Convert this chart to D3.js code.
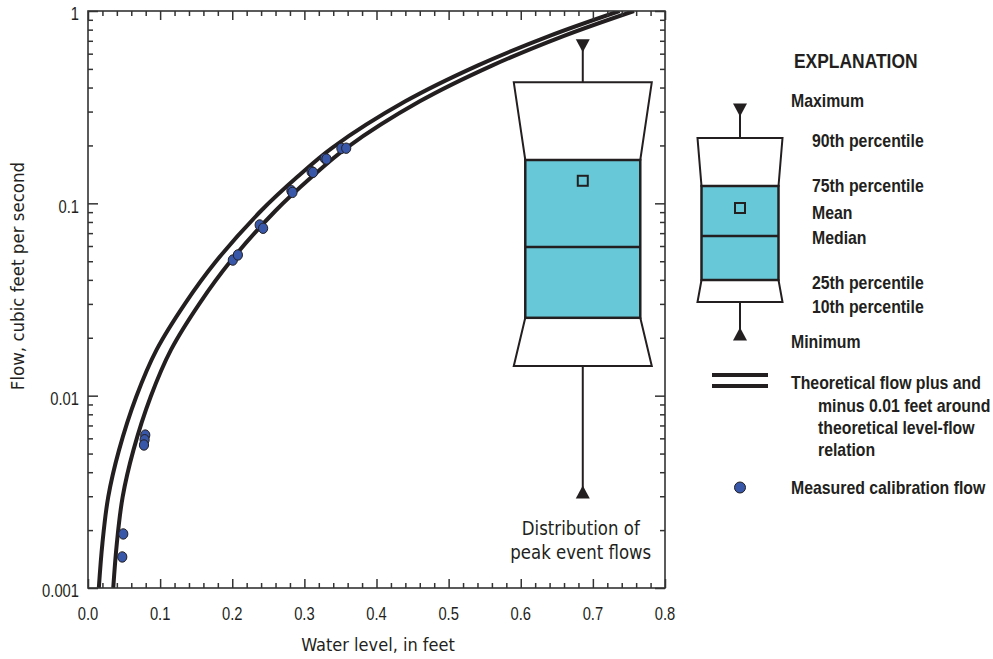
<!DOCTYPE html>
<html><head><meta charset="utf-8">
<script src="https://cdn.jsdelivr.net/npm/d3@7"></script>
<style>
body{margin:0;background:#fff;}
svg{display:block;}
</style></head>
<body><svg id="c" width="993" height="659"></svg>
<script>
// ---- data ----
const theoryLevel = [0.025, 0.030, 0.038, 0.053, 0.077, 0.105, 0.145, 0.187, 0.25, 0.30, 0.349, 0.45, 0.55, 0.65, 0.747];
const theoryFlow  = [0.001, 0.00171, 0.00297, 0.00521, 0.0099, 0.0173, 0.0303, 0.0497, 0.0915, 0.137, 0.195, 0.339, 0.52, 0.743, 1.0];
const bandOffset = [-0.01, 0.01];
const calLevel = [0.0489, 0.0475, 0.0794, 0.0785, 0.0776, 0.2008, 0.2078, 0.238, 0.2428, 0.282, 0.2835, 0.310, 0.312, 0.3283, 0.3306, 0.3513, 0.358];
const calFlow  = [0.00191, 0.00145, 0.00624, 0.0059, 0.00554, 0.0507, 0.0539, 0.0772, 0.0742, 0.1163, 0.1140, 0.1460, 0.1449, 0.1714, 0.1700, 0.1932, 0.1935];
const boxLevel = 0.686;
const boxMin = 0.00316, boxP10 = 0.01426, boxP25 = 0.0254, boxMedian = 0.0593, boxMean = 0.131, boxP75 = 0.168, boxP90 = 0.4258, boxMax = 0.66;
const xTicks = [0, 0.1, 0.2, 0.3, 0.4, 0.5, 0.6, 0.7, 0.8];
const xTickLabels = ["0.0","0.1","0.2","0.3","0.4","0.5","0.6","0.7","0.8"];
const yTicks = [0.001, 0.01, 0.1, 1];
const yTickLabels = ["0.001","0.01","0.1","1"];
const legendBoxLabels = ["Maximum","90th percentile","75th percentile","Mean","Median","25th percentile","10th percentile","Minimum"];
const legendLineLabel = ["Theoretical flow plus and","minus 0.01 feet around","theoretical level-flow","relation"];
const legendDotLabel = "Measured calibration flow";

// ---- layout ----
const L = 88, R = 665, T = 11, B = 588;
const ink = "#231f20", blue = "#67c9d8", dotFill = "#3957a8";
const svg = d3.select("#c");
const x = d3.scaleLinear().domain([0, 0.8]).range([L, R]);
const y = d3.scaleLog().domain([0.001, 1]).range([B, T]);

function ntext(g, px, py, s, o){
  return g.append("text")
    .attr("transform",`translate(${px},${py}) scale(${o.sx||1},1)`)
    .attr("font-family", o.family || "'Liberation Sans', Arial, sans-serif")
    .attr("font-size", o.size).attr("font-weight", o.weight||"normal")
    .attr("text-anchor", o.anchor||"start").attr("dy", o.dy||0)
    .attr("fill", ink).text(s);
}

// clip
svg.append("defs").append("clipPath").attr("id","clip")
  .append("rect").attr("x",L).attr("y",T).attr("width",R-L).attr("height",B-T);

// theoretical curves
const pts = theoryLevel.map((h,i)=>[h, theoryFlow[i]]);
const line = d3.line().x(d=>x(d[0])).y(d=>y(d[1])).curve(d3.curveCatmullRom.alpha(0.5));
const cg = svg.append("g").attr("clip-path","url(#clip)");
bandOffset.forEach(o=>{
  cg.append("path").attr("d", line(pts.map(p=>[p[0]+o, p[1]])))
    .attr("fill","none").attr("stroke",ink).attr("stroke-width",4);
});

// calibration points
svg.append("g").selectAll("ellipse").data(calLevel.map((h,i)=>[h, calFlow[i]])).join("ellipse")
  .attr("cx",d=>x(d[0])).attr("cy",d=>y(d[1])).attr("rx",4.6).attr("ry",5.2)
  .attr("fill",dotFill).attr("stroke",ink).attr("stroke-width",1);

// box plot
function drawBox(g, cx, yMax, y90, y75, yMed, yMean, y25, y10, yMin, wOuter, wInner){
  g.append("line").attr("x1",cx).attr("x2",cx).attr("y1",yMax).attr("y2",y90).attr("stroke",ink).attr("stroke-width",2);
  g.append("line").attr("x1",cx).attr("x2",cx).attr("y1",y10).attr("y2",yMin).attr("stroke",ink).attr("stroke-width",2);
  g.append("path").attr("d",`M${cx-wOuter},${y90}L${cx+wOuter},${y90}L${cx+wInner},${y75}L${cx-wInner},${y75}Z`)
    .attr("fill","#fff").attr("stroke",ink).attr("stroke-width",2);
  g.append("path").attr("d",`M${cx-wInner},${y25}L${cx+wInner},${y25}L${cx+wOuter},${y10}L${cx-wOuter},${y10}Z`)
    .attr("fill","#fff").attr("stroke",ink).attr("stroke-width",2);
  g.append("rect").attr("x",cx-wInner).attr("y",y75).attr("width",2*wInner).attr("height",y25-y75)
    .attr("fill",blue).attr("stroke",ink).attr("stroke-width",2.5);
  g.append("line").attr("x1",cx-wInner).attr("x2",cx+wInner).attr("y1",yMed).attr("y2",yMed).attr("stroke",ink).attr("stroke-width",2.5);
  g.append("rect").attr("x",cx-5).attr("y",yMean-5).attr("width",10).attr("height",10)
    .attr("fill",blue).attr("stroke",ink).attr("stroke-width",2);
  g.append("path").attr("d",`M${cx-7},${yMax-6.5}L${cx+7},${yMax-6.5}L${cx},${yMax+6.5}Z`).attr("fill",ink);
  g.append("path").attr("d",`M${cx-7},${yMin+6.5}L${cx+7},${yMin+6.5}L${cx},${yMin-6.5}Z`).attr("fill",ink);
}
drawBox(svg.append("g"), x(boxLevel), y(boxMax), y(boxP90), y(boxP75), y(boxMedian), y(boxMean), y(boxP25), y(boxP10), y(boxMin), 69, 57.5);

const cond = "'DejaVu Sans Condensed', 'DejaVu Sans', sans-serif";
ntext(svg, x(boxLevel)-2, 535, "Distribution of", {size:19, anchor:"middle", family:cond, sx:0.97});
ntext(svg, x(boxLevel)-2, 559, "peak event flows", {size:19, anchor:"middle", family:cond, sx:0.97});

// axes frame with inward ticks
const axCol = "#333";
const xMinor = d3.range(0, 0.8001, 0.02).filter(v=>Math.abs(v*10-Math.round(v*10))>1e-6);
const yMinor = [];
[0.001,0.01,0.1].forEach(b=>{for(let k=2;k<=9;k++) yMinor.push(b*k);});

function ticks(axisFn, scale, vals, size, transform){
  const g = svg.append("g").attr("transform",transform)
    .call(axisFn(scale).tickValues(vals).tickSize(size).tickFormat(""));
  g.select(".domain").remove();
  g.selectAll("line").attr("stroke",axCol).attr("stroke-width",1.5);
  return g;
}
ticks(d3.axisTop, x, xTicks, 9, `translate(0,${B})`);
ticks(d3.axisTop, x, xMinor, 5, `translate(0,${B})`);
ticks(d3.axisBottom, x, xTicks, 9, `translate(0,${T})`);
ticks(d3.axisBottom, x, xMinor, 5, `translate(0,${T})`);
ticks(d3.axisRight, y, yTicks, 10, `translate(${L},0)`);
ticks(d3.axisRight, y, yMinor, 5, `translate(${L},0)`);
ticks(d3.axisLeft, y, yTicks, 10, `translate(${R},0)`);
ticks(d3.axisLeft, y, yMinor, 5, `translate(${R},0)`);
svg.append("rect").attr("x",L).attr("y",T).attr("width",R-L).attr("height",B-T)
  .attr("fill","none").attr("stroke",axCol).attr("stroke-width",1.6);

// tick labels
xTicks.forEach((v,i)=> ntext(svg, x(v), 620, xTickLabels[i], {size:18, anchor:"middle", sx:0.82}));
yTicks.forEach((v,i)=> ntext(svg, 79, y(v)+3, yTickLabels[i], {size:18, anchor:"end", sx:0.82, dy:"0.35em"}));

// axis titles
ntext(svg, 378, 651, "Water level, in feet", {size:18, anchor:"middle", family:cond});
svg.append("text").attr("transform","translate(24,276) rotate(-90)").attr("text-anchor","middle")
  .attr("font-family",cond).attr("font-size",18.5).attr("fill",ink).text("Flow, cubic feet per second");

// legend
const lg = svg.append("g");
ntext(lg, 794, 68, "EXPLANATION", {size:21, weight:"bold", sx:0.83});
drawBox(lg, 740, 110, 138, 186, 236, 208, 280, 302, 334, 42.5, 38.5);
const lbx = [791, 812, 812, 812, 812, 812, 812, 791];
const lby = [101, 141, 186, 213, 238, 283, 307, 342];
legendBoxLabels.forEach((t,i)=> ntext(lg, lbx[i], lby[i], t, {size:18, weight:"bold", sx:0.88, dy:"0.35em"}));
[375, 386].forEach(yy=>lg.append("line").attr("x1",712).attr("x2",768).attr("y1",yy).attr("y2",yy)
  .attr("stroke",ink).attr("stroke-width",4));
legendLineLabel.forEach((t,i)=> ntext(lg, i===0?791:818, 383+i*22.3, t, {size:18, weight:"bold", sx:0.88, dy:"0.35em"}));
lg.append("ellipse").attr("cx",740).attr("cy",487.5).attr("rx",5.5).attr("ry",5.5).attr("fill",dotFill).attr("stroke",ink).attr("stroke-width",1);
ntext(lg, 791, 487.5, legendDotLabel, {size:18, weight:"bold", sx:0.88, dy:"0.35em"});
</script></body></html>
